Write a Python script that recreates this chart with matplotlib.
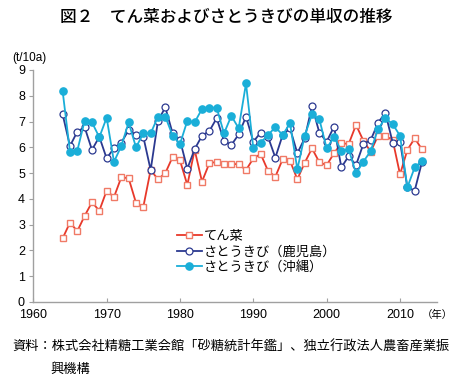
import matplotlib
matplotlib.use('Agg')
import matplotlib.pyplot as plt

plt.rcParams['font.family'] = ['Liberation Sans', 'Noto Sans CJK JP', 'DejaVu Sans']
plt.rcParams['axes.unicode_minus'] = False

# ========== data ==========
years = list(range(1964, 2014))

tensai = [2.47, 3.08, 2.75, 3.34, 3.87, 3.54, 4.32, 4.07, 4.84, 4.80,
          3.85, 3.69, 5.12, 4.76, 5.00, 5.63, 5.49, 4.54, 5.90, 4.67,
          5.38, 5.44, 5.35, 5.35, 5.35, 5.12, 5.57, 5.74, 5.09, 4.86,
          5.54, 5.48, 4.76, 5.40, 5.96, 5.42, 5.31, 5.77, 6.16, 6.13,
          6.87, 6.26, 5.83, 6.45, 6.45, 6.28, 4.95, 5.90, 6.35, 5.92]

kagoshima = [7.28, 6.05, 6.61, 6.78, 5.90, 6.41, 5.57, 5.97, 6.18, 6.67,
             6.48, 6.41, 5.12, 7.03, 7.55, 6.54, 6.28, 5.17, 5.93, 6.45,
             6.63, 7.13, 6.25, 6.09, 6.50, 7.19, 6.22, 6.57, 6.41, 5.60,
             6.48, 6.74, 5.77, 6.35, 7.60, 6.57, 6.22, 6.80, 5.22, 5.66,
             5.31, 6.13, 6.28, 6.95, 7.34, 6.18, 6.22, 4.45, 4.32, 5.44]

okinawa = [8.18, 5.83, 5.87, 7.03, 6.97, 6.39, 7.15, 5.44, 6.05, 6.97,
           6.00, 6.54, 6.54, 7.19, 7.19, 6.45, 6.13, 7.03, 6.97, 7.49,
           7.54, 7.54, 6.54, 7.22, 6.74, 8.48, 5.96, 6.18, 6.48, 6.78,
           6.48, 6.93, 5.15, 6.45, 7.28, 7.09, 5.96, 6.41, 5.86, 5.93,
           4.99, 5.44, 5.86, 6.71, 7.13, 6.90, 6.45, 4.45, 5.22, 5.47]

labels = ['てん菜', 'さとうきび（鹿児島）', 'さとうきび（沖縄）']
x_ticks = [1960, 1970, 1980, 1990, 2000, 2010]
y_ticks = list(range(0, 10))

# ========== figure ==========
fig = plt.figure(figsize=(4.71, 3.85), dpi=100)
ax = fig.add_axes([33.3 / 471, 83 / 385, (436.7 - 33.3) / 471, 232 / 385])

ax.plot(years, tensai, color='#E8382A', lw=1.3, marker='s', ms=5.0,
        mfc='white', mec='#F07A66', mew=1.0, label=labels[0], zorder=3)
ax.plot(years, kagoshima, color='#2B3990', lw=1.3, marker='o', ms=5.0,
        mfc='white', mec='#2B3990', mew=0.9, label=labels[1], zorder=4)
ax.plot(years, okinawa, color='#1AAED8', lw=1.3, marker='o', ms=5.2,
        mfc='#1AAED8', mec='#1AAED8', label=labels[2], zorder=5)

ax.set_xlim(1960, 2015)
ax.set_ylim(0, 9)
ax.set_xticks(x_ticks)
ax.set_yticks(y_ticks)

for s in ['top', 'right']:
    ax.spines[s].set_visible(False)
for s in ['left', 'bottom']:
    ax.spines[s].set_color('#A0A0A0')
    ax.spines[s].set_linewidth(1.0)

ax.tick_params(axis='y', direction='out', length=3, color='#A0A0A0',
               labelsize=9, pad=3)
ax.tick_params(axis='x', direction='in', length=3, color='#A0A0A0',
               labelsize=9, pad=5)

leg = ax.legend(loc='upper left', bbox_to_anchor=(170 / 471, 1 - 223 / 385),
                bbox_transform=fig.transFigure, frameon=False, borderpad=0,
                handlelength=1.9, handletextpad=0.2, labelspacing=0.2,
                prop={'family': ['Noto Sans CJK JP'], 'size': 9.5})

# texts
fig.text(226 / 471, 1 - 17 / 385, '図２　てん菜およびさとうきびの単収の推移',
         ha='center', va='center', fontsize=12, family=['Noto Sans CJK JP'],
         weight='medium')
fig.text(12 / 471, 1 - 58 / 385, '(t/10a)', ha='left', va='center', fontsize=8.5)
fig.text(422 / 471, 1 - 315 / 385, '（年）', ha='left', va='center', fontsize=7.5,
         family=['Noto Sans CJK JP'])
fig.text(12 / 471, 1 - 347 / 385,
         '資料：株式会社精糖工業会館「砂糖統計年鑑」、独立行政法人農畜産業振',
         ha='left', va='center', fontsize=9.5, family=['Noto Sans CJK JP'])
fig.text(50 / 471, 1 - 369 / 385, '興機構', ha='left', va='center',
         fontsize=9.5, family=['Noto Sans CJK JP'])

fig.savefig('out.png', dpi=100)
